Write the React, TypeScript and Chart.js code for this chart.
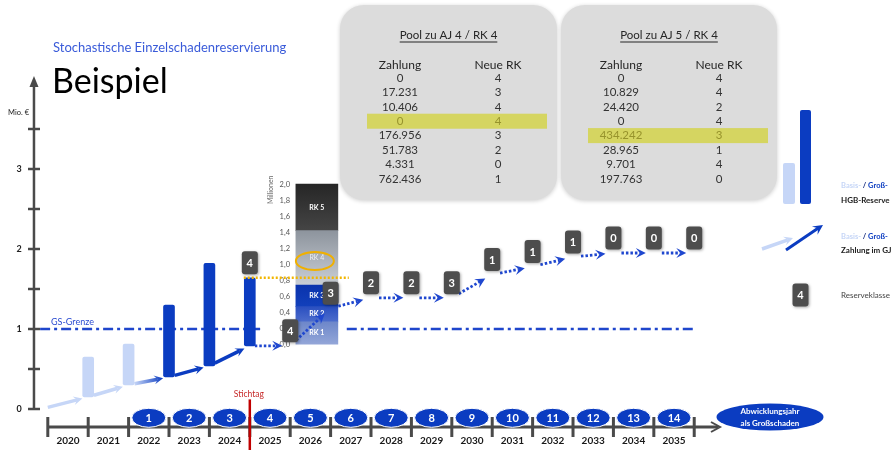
import React, { useEffect, useRef } from 'react';
import { Chart, registerables } from 'chart.js';

Chart.register(...registerables);

// ---------------- data ----------------
const years = [2020, 2021, 2022, 2023, 2024, 2025, 2026, 2027, 2028, 2029, 2030, 2031, 2032, 2033, 2034, 2035];
const ajNumbers = [null, null, 1, 2, 3, 4, 5, 6, 7, 8, 9, 10, 11, 12, 13, 14];
const paymentStart = 0.02; // Mio. € at start of 2020
const paymentCum = [0.15, 0.30, 0.40, 0.54, 0.79, 0.79, 1.26, 1.39, 1.39, 1.39, 1.68, 1.78, 1.90, 1.95, 1.95, 1.95]; // end of year
const reserveTop = [0.65, 0.81, 1.30, 1.82, 1.64]; // payment + reserve, end of 2020..2024
const reserveKind = ['Basis', 'Basis', 'Groß', 'Groß', 'Groß'];
const stichtagYear = 2024;
const rkFirstYear = 2024;
const rkLabels = [4, 4, 3, 2, 2, 3, 1, 1, 1, 0, 0, 0]; // end of 2024..2035
const gsGrenze = 1.0;
const yAxisTicks = [0, 0.5, 1, 1.5, 2, 2.5, 3, 3.5];
const yAxisLabels = ['0', '1', '2', '3'];
const insetTickLabels = ['0,0', '0,2', '0,4', '0,6', '0,8', '1,0', '1,2', '1,4', '1,6', '1,8', '2,0'];
const insetNames = ['RK 1', 'RK 2', 'RK 3', 'RK 4', 'RK 5'];
const insetBounds = [0, 0.28, 0.47, 0.74, 1.42, 2.0]; // Millionen
const insetBase = 0.81;
const poolATitle = 'Pool zu AJ 4 / RK 4';
const poolAZahlung = ['0', '17.231', '10.406', '0', '176.956', '51.783', '4.331', '762.436'];
const poolANeueRK = ['4', '3', '4', '4', '3', '2', '0', '1'];
const poolAHighlight = 3;
const poolBTitle = 'Pool zu AJ 5 / RK 4';
const poolBZahlung = ['0', '10.829', '24.420', '0', '434.242', '28.965', '9.701', '197.763'];
const poolBNeueRK = ['4', '4', '2', '4', '3', '1', '4', '0'];
const poolBHighlight = 4;

// ---------------- layout / style ----------------
const X_MIN = -1.683, X_MAX = 20.42;
const Y_MIN = -0.5125, Y_MAX = 5.1125;
const INSET_X = 6.16;
const FONT = 'Lato, "Open Sans", "DejaVu Sans", sans-serif';
const DARK = '#0b3cc1';
const LIGHT = '#c6d6f7';
const DOT_BLUE = '#1f47cf';
const BOXGRAY = '#4d4d4d';

function roundRect(ctx: CanvasRenderingContext2D, x: number, y: number, w: number, h: number, r: number) {
  ctx.beginPath();
  ctx.moveTo(x + r, y);
  ctx.arcTo(x + w, y, x + w, y + h, r);
  ctx.arcTo(x + w, y + h, x, y + h, r);
  ctx.arcTo(x, y + h, x, y, r);
  ctx.arcTo(x, y, x + w, y, r);
  ctx.closePath();
}

function drawArrow(ctx: CanvasRenderingContext2D, x1: number, y1: number, x2: number, y2: number, color: any, width: number, dotted: boolean, headLen = 9) {
  const ang = Math.atan2(y2 - y1, x2 - x1);
  const c = Math.cos(ang), s = Math.sin(ang);
  const bx = x2 - c * headLen * 0.6, by = y2 - s * headLen * 0.6;
  ctx.save();
  ctx.strokeStyle = color;
  ctx.lineWidth = width;
  ctx.setLineDash(dotted ? [2.5, 2] : []);
  ctx.beginPath();
  ctx.moveTo(x1, y1);
  ctx.lineTo(bx, by);
  ctx.stroke();
  ctx.setLineDash([]);
  ctx.fillStyle = color;
  const w = headLen * 0.5;
  ctx.beginPath();
  ctx.moveTo(x2, y2);
  ctx.lineTo(x2 - c * headLen + s * w, y2 - s * headLen - c * w);
  ctx.lineTo(bx, by);
  ctx.lineTo(x2 - c * headLen - s * w, y2 - s * headLen + c * w);
  ctx.closePath();
  ctx.fill();
  ctx.restore();
}

function drawRkBox(ctx: CanvasRenderingContext2D, cx: number, cy: number, label: string) {
  ctx.save();
  ctx.shadowColor = 'rgba(0,0,0,0.35)';
  ctx.shadowBlur = 3;
  ctx.shadowOffsetX = 1;
  ctx.shadowOffsetY = 1;
  roundRect(ctx, cx - 8, cy - 11.5, 16, 23, 3);
  ctx.fillStyle = BOXGRAY;
  ctx.fill();
  ctx.restore();
  ctx.save();
  ctx.fillStyle = '#ffffff';
  ctx.font = `bold 11px ${FONT}`;
  ctx.textAlign = 'center';
  ctx.textBaseline = 'middle';
  ctx.fillText(label, cx, cy + 0.5);
  ctx.restore();
}

function drawPool(ctx: CanvasRenderingContext2D, left: number, right: number, title: string, zahl: string[], rk: string[], hi: number) {
  const top = 5, bottom = 200;
  ctx.save();
  ctx.shadowColor = 'rgba(0,0,0,0.2)';
  ctx.shadowBlur = 4;
  ctx.shadowOffsetY = 1;
  roundRect(ctx, left, top, right - left, bottom - top, 24);
  ctx.fillStyle = '#dcdcdc';
  ctx.fill();
  ctx.restore();
  ctx.save();
  const cx = (left + right) / 2;
  ctx.textAlign = 'center';
  ctx.textBaseline = 'middle';
  ctx.fillStyle = '#262626';
  ctx.font = `11.5px ${FONT}`;
  ctx.fillText(title, cx, 35);
  const tw = ctx.measureText(title).width;
  ctx.fillRect(cx - tw / 2, 41.5, tw, 1);
  const c1 = left + 60, c2 = left + 158;
  ctx.font = `12px ${FONT}`;
  ctx.fillText('Zahlung', c1, 65);
  ctx.fillText('Neue RK', c2, 65);
  ctx.font = `11.5px ${FONT}`;
  for (let i = 0; i < zahl.length; i++) {
    const ry = 78 + 14.4 * i;
    if (i === hi) {
      ctx.fillStyle = 'rgba(212, 212, 90, 0.95)';
      ctx.fillRect(left + 27, ry - 7.5, 180, 15);
      ctx.fillStyle = '#97932c';
    } else {
      ctx.fillStyle = '#333333';
    }
    ctx.fillText(zahl[i], c1, ry);
    ctx.fillText(rk[i], c2, ry);
  }
  ctx.restore();
}

const scenePlugin = {
  id: 'scene',
  beforeDatasetsDraw(chart: any) {
    const ctx: CanvasRenderingContext2D = chart.ctx;
    const xs = chart.scales.x, ys = chart.scales.y;
    const X = (v: number) => xs.getPixelForValue(v);
    const Y = (v: number) => ys.getPixelForValue(v);
    ctx.save();

    // titles
    ctx.textBaseline = 'middle';
    ctx.textAlign = 'left';
    ctx.fillStyle = '#3a5bd9';
    ctx.font = `13px ${FONT}`;
    ctx.fillText('Stochastische Einzelschadenreservierung', 53, 48);
    ctx.fillStyle = '#000000';
    ctx.font = `34px ${FONT}`;
    ctx.textBaseline = 'alphabetic';
    ctx.fillText('Beispiel', 52, 93);

    // pools
    drawPool(ctx, 340, 557, poolATitle, poolAZahlung, poolANeueRK, poolAHighlight);
    drawPool(ctx, 561, 777, poolBTitle, poolBZahlung, poolBNeueRK, poolBHighlight);

    // y axis
    const ax = X(-0.842);
    ctx.strokeStyle = '#4a4a4a';
    ctx.fillStyle = '#4a4a4a';
    ctx.lineWidth = 2.5;
    ctx.beginPath();
    ctx.moveTo(ax, Y(0));
    ctx.lineTo(ax, 84);
    ctx.stroke();
    ctx.beginPath();
    ctx.moveTo(ax, 76);
    ctx.lineTo(ax - 4.5, 87);
    ctx.lineTo(ax + 4.5, 87);
    ctx.closePath();
    ctx.fill();
    yAxisTicks.forEach((t) => {
      ctx.beginPath();
      ctx.moveTo(ax - 6, Y(t));
      ctx.lineTo(ax + 6, Y(t));
      ctx.stroke();
    });
    ctx.fillStyle = '#222';
    ctx.font = `bold 9px ${FONT}`;
    ctx.textAlign = 'center';
    ctx.textBaseline = 'middle';
    yAxisLabels.forEach((l) => ctx.fillText(l, 19, Y(Number(l))));
    ctx.font = `7.5px ${FONT}`;
    ctx.textAlign = 'left';
    ctx.fillText('Mio. €', 8, 113);

    // GS-Grenze
    ctx.strokeStyle = '#1f46cc';
    ctx.lineWidth = 2.5;
    ctx.setLineDash([10, 4, 3, 4]);
    ctx.beginPath();
    ctx.moveTo(X(-0.69), Y(gsGrenze));
    ctx.lineTo(X(4.8), Y(gsGrenze));
    ctx.moveTo(X(6.9), Y(gsGrenze));
    ctx.lineTo(X(15.5), Y(gsGrenze));
    ctx.stroke();
    ctx.setLineDash([]);
    ctx.fillStyle = '#2a4bd0';
    ctx.font = `9px ${FONT}`;
    ctx.fillText('GS-Grenze', 51, Y(gsGrenze) - 7);

    // timeline
    const ty = Y(-0.225);
    ctx.strokeStyle = '#4a4a4a';
    ctx.lineWidth = 3;
    ctx.beginPath();
    ctx.moveTo(X(-0.5), ty);
    ctx.lineTo(718, ty);
    ctx.stroke();
    ctx.lineWidth = 2;
    ctx.beginPath();
    ctx.moveTo(711, ty - 5);
    ctx.lineTo(720, ty);
    ctx.lineTo(711, ty + 5);
    ctx.stroke();
    ctx.lineWidth = 3;
    for (let k = 0; k <= years.length; k++) {
      const x = X(k - 0.5);
      ctx.beginPath();
      ctx.moveTo(x, ty - 10);
      ctx.lineTo(x, ty + 10);
      ctx.stroke();
    }
    ctx.fillStyle = '#1a1a1a';
    ctx.font = `bold 10px ${FONT}`;
    ctx.textAlign = 'center';
    years.forEach((yr, i) => ctx.fillText(String(yr), X(i), Y(-0.4)));
    // AJ ellipses
    const ey = Y(-0.11);
    years.forEach((yr, i) => {
      const n = ajNumbers[i];
      if (n == null) return;
      ctx.beginPath();
      ctx.ellipse(X(i), ey, 17, 9.5, 0, 0, Math.PI * 2);
      ctx.fillStyle = DARK;
      ctx.fill();
      ctx.strokeStyle = '#ffffff';
      ctx.lineWidth = 1;
      ctx.stroke();
      ctx.fillStyle = '#ffffff';
      ctx.font = `bold 11px ${FONT}`;
      ctx.fillText(String(n), X(i), ey + 0.5);
    });
    // Abwicklungsjahr ellipse
    ctx.beginPath();
    ctx.ellipse(770, 417, 53.5, 13.5, 0, 0, Math.PI * 2);
    ctx.fillStyle = DARK;
    ctx.fill();
    ctx.fillStyle = '#ffffff';
    ctx.font = `bold 8px ${FONT}`;
    ctx.fillText('Abwicklungsjahr', 770, 411);
    ctx.fillText('als Großschaden', 770, 423);

    // Stichtag
    const sx = X(years.indexOf(stichtagYear) + 0.5);
    ctx.strokeStyle = '#c00000';
    ctx.lineWidth = 2.5;
    ctx.beginPath();
    ctx.moveTo(sx, Y(0.12));
    ctx.lineTo(sx, 450);
    ctx.stroke();
    ctx.fillStyle = '#c62828';
    ctx.font = `8.5px ${FONT}`;
    ctx.fillText('Stichtag', sx - 1, Y(0.19));

    ctx.restore();
  },
  afterDatasetsDraw(chart: any) {
    const ctx: CanvasRenderingContext2D = chart.ctx;
    const xs = chart.scales.x, ys = chart.scales.y;
    const X = (v: number) => xs.getPixelForValue(v);
    const Y = (v: number) => ys.getPixelForValue(v);
    ctx.save();

    // inset axis
    ctx.fillStyle = '#555';
    ctx.font = `7.5px ${FONT}`;
    ctx.textAlign = 'right';
    ctx.textBaseline = 'middle';
    insetTickLabels.forEach((l, i) => ctx.fillText(l, 290, Y(insetBase + i * 0.2)));
    ctx.save();
    ctx.translate(271, Y(insetBase + 1.93));
    ctx.rotate(-Math.PI / 2);
    ctx.textAlign = 'center';
    ctx.fillStyle = '#666';
    ctx.font = `7px ${FONT}`;
    ctx.fillText('Millionen', 0, 0);
    ctx.restore();
    // inset labels
    ctx.textAlign = 'center';
    insetNames.forEach((n, i) => {
      const mid = insetBase + (insetBounds[i] + insetBounds[i + 1]) / 2;
      ctx.fillStyle = i === 3 ? '#eef0f3' : '#ffffff';
      ctx.font = `${i === 3 ? '' : 'bold '}7px ${FONT}`;
      ctx.fillText(n, X(INSET_X), Y(mid));
    });
    // orange ellipse
    ctx.strokeStyle = '#f0b000';
    ctx.lineWidth = 2;
    ctx.beginPath();
    ctx.ellipse(X(INSET_X) - 2, Y(insetBase + 1.04), 19, 9, 0, 0, Math.PI * 2);
    ctx.stroke();
    // orange dotted line at reserve level
    ctx.strokeStyle = '#f2b600';
    ctx.lineWidth = 2.5;
    ctx.setLineDash([2, 2]);
    ctx.beginPath();
    ctx.moveTo(X(4.35), Y(reserveTop[4]));
    ctx.lineTo(X(6.95), Y(reserveTop[4]));
    ctx.stroke();
    ctx.setLineDash([]);

    // payment arrows
    const pts = [{ x: -0.5, v: paymentStart }, ...paymentCum.map((v, i) => ({ x: i + 0.5, v }))];
    for (let k = 0; k < paymentCum.length; k++) {
      const a = pts[k], b = pts[k + 1];
      const x1 = X(a.x), y1 = Y(a.v), x2 = X(b.x), y2 = Y(b.v);
      const len = Math.hypot(x2 - x1, y2 - y1);
      const ux = (x2 - x1) / len, uy = (y2 - y1) / len;
      const dotted = years[k] > stichtagYear;
      const g1 = k === 0 ? 0 : dotted ? (years[k - 1] === stichtagYear ? 5 : 8) : 6;
      const g2 = dotted ? 8 : 6;
      const sx = x1 + ux * g1, sy = y1 + uy * g1, ex = x2 - ux * g2, ey = y2 - uy * g2;
      let color: any;
      if (dotted) color = DOT_BLUE;
      else if (reserveKind[k] === 'Basis') color = LIGHT;
      else if (k > 0 && reserveKind[k - 1] === 'Basis') {
        const gr = ctx.createLinearGradient(sx, sy, ex, ey);
        gr.addColorStop(0, LIGHT);
        gr.addColorStop(1, DARK);
        color = gr;
      } else color = DARK;
      drawArrow(ctx, sx, sy, ex, ey, color, dotted ? 2.8 : 3.5, dotted, dotted ? 10 : 9);
    }

    // RK boxes
    rkLabels.forEach((l, j) => {
      const k = years.indexOf(rkFirstYear) + j;
      const anchor = years[k] === stichtagYear ? reserveTop[k] : paymentCum[k];
      drawRkBox(ctx, X(k + 0.5), Y(anchor) - 15, String(l));
    });

    // legend
    ctx.fillStyle = LIGHT;
    roundRect(ctx, 783, 163, 12, 41, 2);
    ctx.fill();
    ctx.fillStyle = DARK;
    roundRect(ctx, 800, 110, 11, 94, 2);
    ctx.fill();
    const legendPair = (y: number) => {
      ctx.font = `bold 7.5px ${FONT}`;
      ctx.textAlign = 'left';
      let x = 841;
      ctx.fillStyle = LIGHT;
      ctx.fillText('Basis-', x, y);
      x += ctx.measureText('Basis-').width;
      ctx.fillStyle = '#1b2f80';
      ctx.fillText(' / ', x, y);
      x += ctx.measureText(' / ').width;
      ctx.fillStyle = DARK;
      ctx.fillText('Groß-', x, y);
    };
    legendPair(186);
    ctx.fillStyle = '#222';
    ctx.font = `bold 8px ${FONT}`;
    ctx.fillText('HGB-Reserve', 841, 200);
    drawArrow(ctx, 762, 249, 793, 238, LIGHT, 3.5, false, 9);
    drawArrow(ctx, 786, 250, 823, 225, DARK, 3, false, 10);
    legendPair(237);
    ctx.fillStyle = '#222';
    ctx.font = `bold 8px ${FONT}`;
    ctx.fillText('Zahlung im GJ', 841, 250);
    drawRkBox(ctx, 800.5, 295, '4');
    ctx.fillStyle = '#444';
    ctx.font = `8px ${FONT}`;
    ctx.textAlign = 'left';
    ctx.fillText('Reserveklasse', 841, 295);

    ctx.restore();
  },
};

const INSET_SOLID = ['#7a91cf', '#3659c4', '#0b36b2', '#aab1ba', '#333333'];
const INSET_STOPS = [
  ['#6d87ca', '#93a6d8'],
  ['#2a4fc0', '#4d6dcc'],
  ['#0a33ad', '#1240bb'],
  ['#8d949d', '#c9ced5'],
  ['#262626', '#454545'],
];

function insetColor(i: number) {
  return (c: any) => {
    const chart = c.chart;
    const ys = chart.scales && chart.scales.y;
    if (!ys || !chart.chartArea) return INSET_SOLID[i];
    const top = ys.getPixelForValue(insetBase + insetBounds[i + 1]);
    const bot = ys.getPixelForValue(insetBase + insetBounds[i]);
    if (!isFinite(top) || !isFinite(bot) || top === bot) return INSET_SOLID[i];
    const g = chart.ctx.createLinearGradient(0, top, 0, bot);
    g.addColorStop(0, INSET_STOPS[i][0]);
    g.addColorStop(1, INSET_STOPS[i][1]);
    return g;
  };
}

export default function App() {
  const ref = useRef<HTMLCanvasElement>(null);
  useEffect(() => {
    const datasets: any[] = [
      {
        type: 'bar',
        data: reserveTop.map((t, i) => ({ x: i + 0.5, y: [paymentCum[i], t] })),
        backgroundColor: reserveKind.map((k) => (k === 'Basis' ? LIGHT : DARK)),
        barThickness: 11,
        borderRadius: 2,
        borderSkipped: false,
        grouped: false,
      },
      ...insetNames.map((n, i) => ({
        type: 'bar',
        label: n,
        data: [{ x: INSET_X, y: [insetBase + insetBounds[i], insetBase + insetBounds[i + 1]] }],
        backgroundColor: insetColor(i),
        barThickness: 42,
        borderSkipped: false,
        grouped: false,
      })),
    ];
    const chart = new Chart(ref.current as HTMLCanvasElement, {
      type: 'bar',
      data: { datasets },
      options: {
        responsive: false,
        animation: false,
        devicePixelRatio: 1,
        events: [],
        layout: { padding: 0 },
        plugins: { legend: { display: false }, tooltip: { enabled: false } },
        scales: {
          x: { type: 'linear', display: false, offset: false, bounds: 'ticks', min: X_MIN, max: X_MAX, grace: 0 },
          y: { type: 'linear', display: false, offset: false, min: Y_MIN, max: Y_MAX, grace: 0 },
        },
      } as any,
      plugins: [scenePlugin],
    });
    chart.update();
    return () => chart.destroy();
  }, []);
  return (
    <div style={{ position: 'absolute', left: 0, top: 0, width: 893, height: 450, background: '#ffffff' }}>
      <canvas ref={ref} width={893} height={450} style={{ display: 'block', width: 893, height: 450 }} />
    </div>
  );
}
